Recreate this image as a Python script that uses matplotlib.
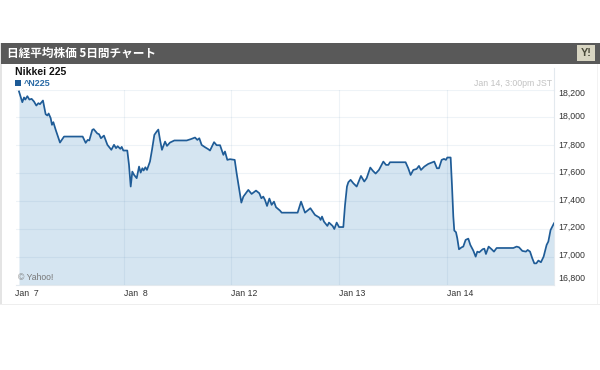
import matplotlib
matplotlib.use('Agg')
import matplotlib.pyplot as plt
from matplotlib.patches import Rectangle

plt.rcParams['font.family'] = ['Liberation Sans', 'DejaVu Sans']

# x is in trading sessions since the Jan 7 open
days = [0, .031, .047, .059, .078, .097, .118, .14, .162, .181, .196, .224, .249, .265, .277, .296, .308, .321, .343, .383,
        .421, .595, .623, .642, .657, .685, .698, .732, .748, .766, .794, .826, .85, .863, .888, .907, .922, .947, .96, .975,
        1.012, 1.028, 1.044, 1.059, 1.075, 1.1, 1.122, 1.137, 1.153, 1.165, 1.181, 1.196, 1.224, 1.243, 1.265, 1.287, 1.302,
        1.318, 1.336, 1.365, 1.383, 1.411, 1.452, 1.567, 1.604, 1.645, 1.667, 1.685, 1.707, 1.738, 1.77, 1.785, 1.823, 1.847,
        1.879, 1.91, 1.925, 1.947, 1.972, 2.016, 2.034, 2.078, 2.097, 2.143, 2.174, 2.215, 2.246, 2.265, 2.283, 2.299, 2.318,
        2.34, 2.361, 2.383, 2.402, 2.439, 2.455, 2.604, 2.636, 2.673, 2.723, 2.766, 2.807, 2.819, 2.832, 2.85, 2.882, 2.897,
        2.931, 2.947, 2.969, 2.991, 3.031, 3.047, 3.065, 3.078, 3.099, 3.124, 3.156, 3.196, 3.227, 3.249, 3.283, 3.308, 3.333,
        3.364, 3.405, 3.43, 3.452, 3.467, 3.613, 3.638, 3.66, 3.685, 3.716, 3.738, 3.757, 3.788, 3.825, 3.863, 3.881, 3.906,
        3.925, 3.95, 3.972, 3.99, 4.003, 4.034, 4.047, 4.059, 4.068, 4.084, 4.096, 4.112, 4.137, 4.152, 4.174, 4.199, 4.218,
        4.246, 4.268, 4.283, 4.302, 4.333, 4.349, 4.364, 4.389, 4.417, 4.439, 4.464, 4.62, 4.651, 4.673, 4.704, 4.738, 4.754,
        4.776, 4.797, 4.816, 4.835, 4.854, 4.878, 4.903, 4.931, 4.947, 4.968, 5.0]
prices = [18186, 18109, 18143, 18128, 18152, 18128, 18133, 18114, 18085, 18102, 18095, 18121, 18023, 18014, 18028, 17995, 17947, 17966, 17911, 17820,
          17863, 17863, 17818, 17839, 17835, 17911, 17916, 17885, 17880, 17851, 17870, 17804, 17780, 17768, 17804, 17780, 17794, 17775, 17789, 17763,
          17763, 17660, 17505, 17612, 17589, 17565, 17648, 17605, 17636, 17620, 17643, 17624, 17684, 17768, 17875, 17899, 17913,
          17839, 17768, 17827, 17796, 17820, 17835, 17835, 17844, 17856, 17839, 17851, 17803, 17787, 17772, 17763, 17823, 17801,
          17801, 17732, 17756, 17696, 17701, 17696, 17600, 17390, 17433, 17481, 17452, 17476, 17457, 17421, 17433, 17409, 17366,
          17419, 17374, 17397, 17357, 17333, 17318, 17318, 17397, 17318, 17350, 17302, 17283, 17266, 17290, 17254, 17223, 17247,
          17223, 17201, 17247, 17215, 17215, 17373, 17505, 17536, 17553, 17529, 17505, 17581, 17541, 17565, 17641, 17617, 17598,
          17624, 17684, 17660, 17660, 17679, 17679, 17636, 17588, 17624, 17631, 17653, 17624, 17648, 17667, 17679, 17684, 17636,
          17636, 17696, 17703, 17696, 17713, 17713, 17505, 17290, 17190, 17178, 17135, 17056, 17070, 17075, 17123, 17132, 17087,
          17046, 17003, 17039, 17034, 17056, 17060, 17022, 17075, 17056, 17039, 17065, 17065, 17075, 17070, 17044, 17039, 17051,
          17039, 16991, 16955, 16955, 16975, 16963, 17003, 17087, 17111, 17194, 17242]

tick_days = [0, .977, 1.978, 2.993, 3.997]
tick_labels = ['Jan  7', 'Jan  8', 'Jan 12', 'Jan 13', 'Jan 14']
y_ticks = [16800, 17000, 17200, 17400, 17600, 17800, 18000, 18200]
y_labels = ['16,800', '17,000', '17,200', '17,400', '17,600', '17,800', '18,000', '18,200']
y_label_shift = [5, 1, 1, 1, 1, 0, 1, -3]

W, H = 600, 370
fig = plt.figure(figsize=(6, 3.7), dpi=100, facecolor='white')


def box(x, y, w, h, **kw):
    fig.add_artist(Rectangle((x / W, 1 - (y + h) / H), w / W, h / H, transform=fig.transFigure, lw=0, **kw))


def label(x, y, s, **kw):
    fig.text(x / W, 1 - y / H, s, va='center', **kw)


# card frame and header
box(0, 43, 2, 262, color='#e4e4e4')
box(0, 304, 600, 1, color='#eeeeee')
box(597, 64, 1, 240, color='#f2f2f2')
box(1, 43, 599, 21, color='#595959')
box(577, 45.5, 18, 15.5, color='#d8d5c2')
label(586, 53, 'Y!', color='#4a4a3a', fontsize=7.8, fontweight='bold', ha='center')
label(7, 53, '日経平均株価 5日間チャート', color='white', fontsize=8.4, family=['Noto Sans CJK JP', 'DejaVu Sans'], fontweight='bold')
label(15, 72, 'Nikkei 225', color='#111111', fontsize=7.5, fontweight='bold')
box(15, 80, 5.5, 6, color='#1c5a96')
label(24, 83, '^N225', color='#2a6aa5', fontsize=6.5, fontweight='bold')
label(552, 83, 'Jan 14, 3:00pm JST', color='#c2c2c2', fontsize=6.3, ha='right')

ax = fig.add_axes([16 / W, 1 - 285 / H, 538 / W, 195.5 / H])
ax.set_xlim(-3 / 107, 5.0)
ax.set_ylim(16800, 18200)
ax.patch.set_alpha(0)
for side in ['top', 'left']:
    ax.spines[side].set_visible(False)
ax.spines['right'].set_color('#e3e9ee')
ax.spines['bottom'].set_color('#e3e9ee')
ax.spines['right'].set_linewidth(0.8)
ax.spines['bottom'].set_linewidth(0.8)

ax.fill_between(days, prices, 16800, color='#d5e5f1', lw=0, zorder=1)
ax.plot(days, prices, color='#1f5c97', lw=1.25, solid_joinstyle='round', zorder=4)
ax.grid(True, color='#4a7ca8', alpha=0.09, lw=0.8, zorder=2)
ax.set_axisbelow(False)
ax.get_lines()[0].set_zorder(4)

ax.set_xticks(tick_days[1:])
ax.set_yticks(y_ticks)
ax.tick_params(length=0, labelbottom=False, labelleft=False)

# tick labels sit beside their positions, not centred on them
for d, s in zip(tick_days, tick_labels):
    ax.annotate(s, (d, 0), xycoords=ax.get_xaxis_transform(), xytext=(-2.9 if d == 0 else 0, -5.8),
                textcoords='offset points', ha='left', va='center', fontsize=6.3, color='#333333')
for v, s, dy in zip(y_ticks, y_labels, y_label_shift):
    ax.annotate(s, (1, v), xycoords=ax.get_yaxis_transform(), xytext=(3.2, dy),
                textcoords='offset points', ha='left', va='center', fontsize=6.3, color='#333333')
label(18, 277, '© Yahoo!', color='#777777', fontsize=6.2, zorder=5)

# right axis rule runs on above the plot area
fig.add_artist(plt.Line2D([554 / W, 554 / W], [1 - 89.5 / H, 1 - 68 / H], color='#e3e9ee', lw=0.8))

plt.savefig('out.png', dpi=100)
